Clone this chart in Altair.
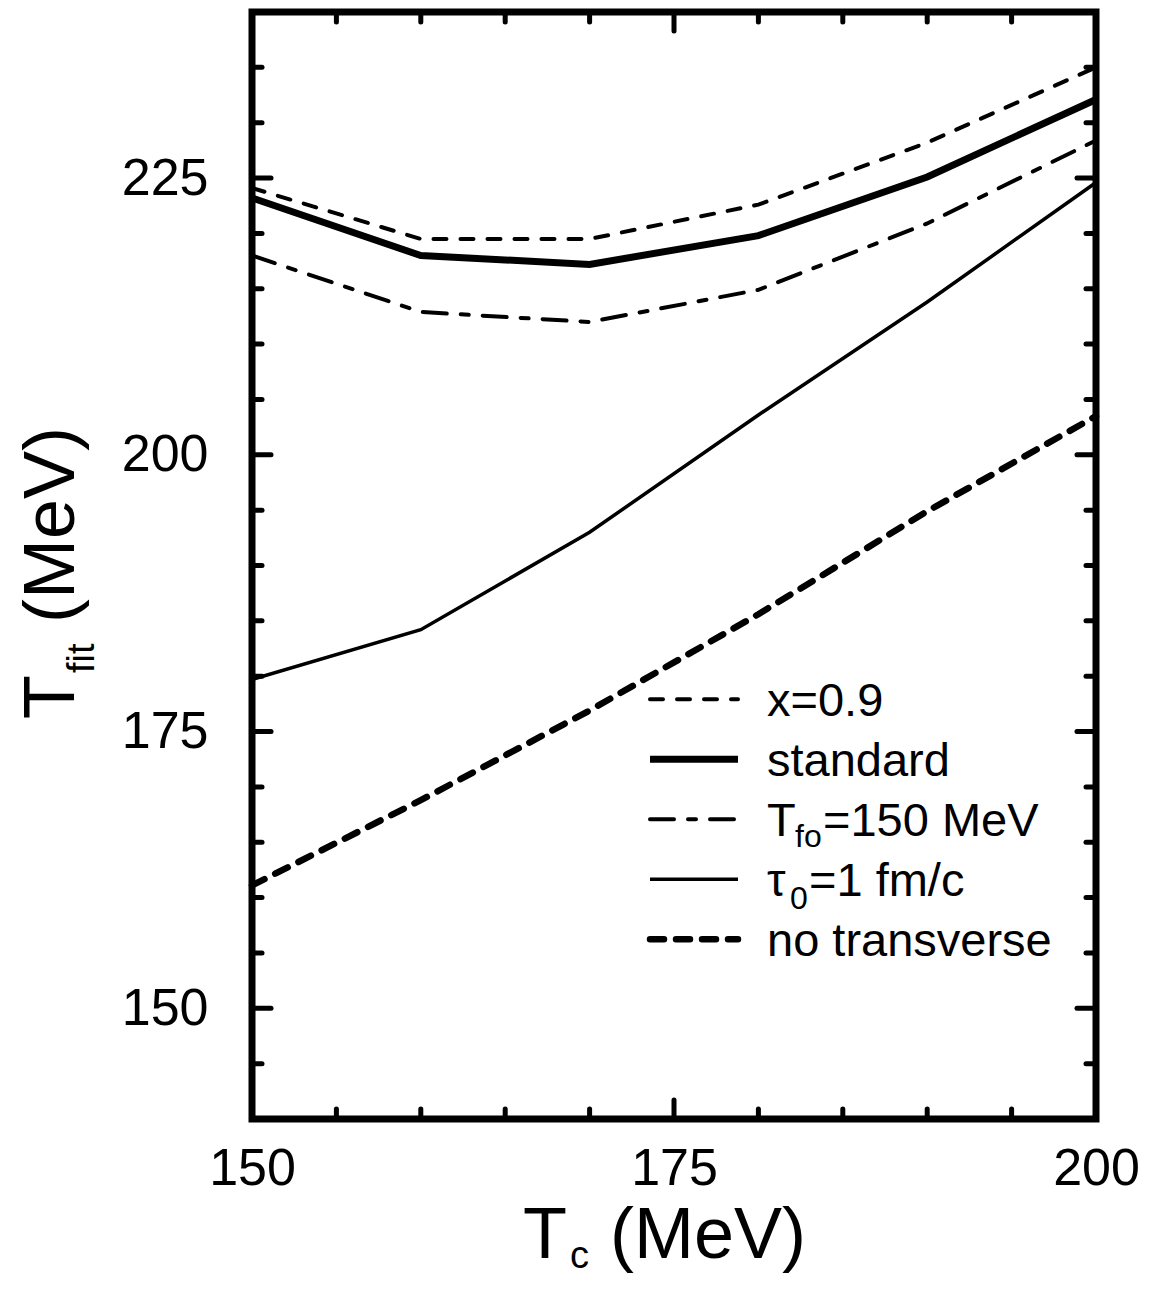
import altair as alt
import pandas as pd

# ---------------- data ----------------
tc = [150, 160, 170, 180, 190, 200]
x09 = [224.1, 219.5, 219.5, 222.6, 228.2, 235.0]
standard = [223.2, 218.0, 217.2, 219.8, 225.1, 232.1]
tfo150 = [218.0, 212.9, 212.0, 214.9, 220.9, 228.4]
tau01 = [179.7, 184.2, 193.0, 203.6, 213.8, 224.6]
no_transverse = [161.1, 168.8, 176.9, 185.6, 194.9, 203.5]

series_keys = ["x09", "standard", "tfo", "tau", "notrans"]
series_vals = [x09, standard, tfo150, tau01, no_transverse]

x_major = [150, 175, 200]
x_minor = [155, 160, 165, 170, 180, 185, 190, 195]
y_major = [150, 175, 200, 225]
y_minor = [145, 155, 160, 165, 170, 180, 185, 190, 195, 205, 210, 215, 220, 230, 235]

# legend label pieces: (text, x offset, baseline offset, small?)
legend_labels = [
    [("x=0.9", 0, 0, False)],
    [("standard", 0, 0, False)],
    [("T", 0, 0, False), ("fo", 28, 11, True), ("=150 MeV", 56, 0, False)],
    [("\u03c4", 0, 0, False), ("0", 23, 13, True), ("=1 fm/c", 42, 0, False)],
    [("no transverse", 0, 0, False)],
]

rows = []
for k, vals in zip(series_keys, series_vals):
    for t, v in zip(tc, vals):
        rows.append({"series": k, "tc": t, "tfit": v})
df = pd.DataFrame(rows)

# ---------------- layout / style ----------------
FONT = "Liberation Sans"
W, H = 844, 1107
xs = alt.Scale(domain=[150, 200], nice=False, zero=False)
ys = alt.Scale(domain=[140, 240], nice=False, zero=False)
x_axis = alt.Axis(values=x_major, title=None, ticks=False, tickSize=0, domain=False,
                  grid=False, labelFontSize=52, labelFont=FONT, labelPadding=24,
                  labelColor="black", labelFlush=False, labelOverlap=False, format="d")
y_axis = alt.Axis(values=y_major, title=None, ticks=False, tickSize=0, domain=False,
                  grid=False, labelFontSize=52, labelFont=FONT, labelPadding=44,
                  labelColor="black", labelOverlap=False, format="d")

styles = {
    "x09": dict(strokeWidth=4, strokeDash=[13, 14], strokeCap="round"),
    "standard": dict(strokeWidth=7),
    "tfo": dict(strokeWidth=4, strokeDash=[24, 14, 8, 14], strokeCap="round"),
    "tau": dict(strokeWidth=3.5),
    "notrans": dict(strokeWidth=6.5, strokeDash=[14, 12], strokeCap="round"),
}

layers = []

# data lines
for k in series_keys:
    layers.append(
        alt.Chart(df).transform_filter(alt.datum.series == k)
        .mark_line(color="black", strokeJoin="miter", **styles[k])
        .encode(x=alt.X("tc:Q", scale=xs, axis=x_axis),
                y=alt.Y("tfit:Q", scale=ys, axis=y_axis))
    )

# inward ticks on all four sides
MINOR_L, MAJOR_L = 10, 19
for vals, L in [(x_major, MAJOR_L), (x_minor, MINOR_L)]:
    d = pd.DataFrame({"v": vals})
    for y0, y1 in [(H, H - L), (0, L)]:
        layers.append(
            alt.Chart(d).mark_rule(color="black", strokeWidth=5, strokeCap="round")
            .encode(x=alt.X("v:Q", scale=xs, axis=x_axis),
                    y=alt.value(y0), y2=alt.value(y1))
        )
for vals, L in [(y_major, MAJOR_L), (y_minor, MINOR_L)]:
    d = pd.DataFrame({"v": vals})
    for x0, x1 in [(0, L), (W, W - L)]:
        layers.append(
            alt.Chart(d).mark_rule(color="black", strokeWidth=5, strokeCap="round")
            .encode(y=alt.Y("v:Q", scale=ys, axis=y_axis),
                    x=alt.value(x0), x2=alt.value(x1))
        )


def txt(s, x, y, size, angle=0):
    return (alt.Chart(pd.DataFrame({"t": [s]}))
            .mark_text(font=FONT, fontSize=size, color="black", align="left",
                       baseline="alphabetic", angle=angle)
            .encode(text="t:N", x=alt.value(x), y=alt.value(y)))


# legend
LEG_Y0, LEG_DY = 687.3, 60
for i, k in enumerate(series_keys):
    yy = LEG_Y0 + LEG_DY * i
    layers.append(
        alt.Chart(pd.DataFrame({"k": [k]}))
        .mark_rule(color="black", **styles[k])
        .encode(x=alt.value(398), x2=alt.value(486), y=alt.value(yy))
    )
    for s, dx, dy, small in legend_labels[i]:
        layers.append(txt(s, 515 + dx, yy + 17 + dy, 32 if small else 47))

# axis titles (with subscripts)
layers.append(txt("T", 271, 1246, 72))
layers.append(txt("c", 318, 1256, 38))
layers.append(txt("(MeV)", 358, 1246, 72))

layers.append(txt("T", -178, 707, 72, angle=270))
layers.append(txt("fit", -158, 661, 38, angle=270))
layers.append(txt("(MeV)", -178, 611, 72, angle=270))

chart = (
    alt.layer(*layers)
    .properties(width=W, height=H,
                padding={"left": 244, "top": 4, "right": 50, "bottom": 158},
                autosize=alt.AutoSizeParams(type="none"))
    .configure_view(stroke="black", strokeWidth=7)
)

chart.save("out.html", embed_options={"renderer": "svg", "actions": False})
